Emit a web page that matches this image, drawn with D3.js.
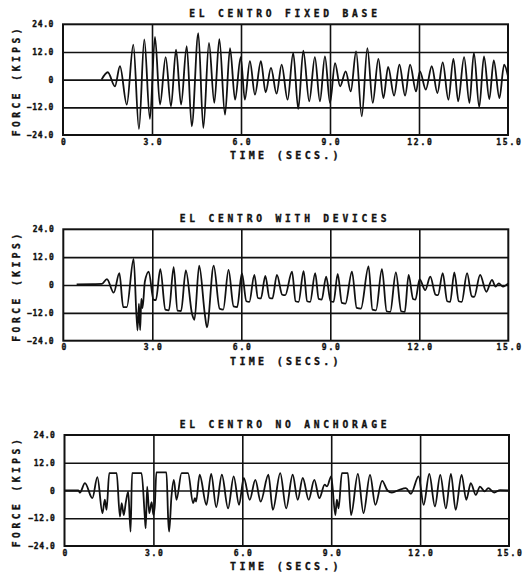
<!DOCTYPE html>
<html>
<head>
<meta charset="utf-8">
<script src="https://cdn.jsdelivr.net/npm/d3@7"></script>
<style>
  html, body { margin: 0; padding: 0; background: #fff; }
  svg { display: block; }
  text { font-family: "DejaVu Sans Mono", monospace; font-weight: bold; fill: #111; stroke: #111; stroke-width: 0.35px; }
</style>
</head>
<body>
<script>
// ---------------- data ----------------
const titles = ["EL CENTRO FIXED BASE", "EL CENTRO WITH DEVICES", "EL CENTRO NO ANCHORAGE"];
const xLabel = "TIME (SECS.)";
const yLabel = "FORCE (KIPS)";
const xTicks = [0, 3, 6, 9, 12, 15];
const yTicks = [-24, -12, 0, 12, 24];
const xGrid = [3, 6, 9, 12];
const yGrid = [-12, 0, 12];

// EL CENTRO FIXED BASE (time s, force kips) - extrema
const fixedT = [1.30,1.51,1.75,1.92,2.15,2.37,2.56,2.74,2.93,3.10,3.27,3.46,3.64,3.81,3.98,4.17,4.34,4.56,4.73,4.92,
  5.10,5.27,5.46,5.63,5.80,5.99,6.13,6.30,6.47,6.67,6.83,7.01,7.20,7.37,7.57,7.76,7.93,8.10,8.30,8.49,
  8.66,8.83,9.00,9.17,9.34,9.53,9.70,9.88,10.07,10.26,10.44,10.63,10.80,10.96,11.16,11.34,11.53,11.70,11.90,12.03,
  12.23,12.43,12.62,12.80,12.99,13.16,13.32,13.52,13.70,13.85,14.03,14.19,14.37,14.52,14.71,14.87,15.00];
const fixedV = [0,3.2,-2.9,5.8,-10.8,15.2,-21.4,17.4,-17.0,18.5,-10.8,9.8,-11.6,13.0,-10.8,14.5,-20.2,20.2,-21.0,15.9,
  -10.1,17.6,-15.2,13.7,-8.7,9.8,-8.7,8.0,-6.5,8.0,-5.5,5.1,-6.1,6.5,-8.7,11.6,-12.7,12.6,-9.4,9.8,
  -9.4,10.1,-10.1,7.2,-2.9,3.6,-5.1,12.3,-15.9,13.7,-10.1,9.0,-8.0,5.5,-6.9,6.5,-6.9,6.5,-5.1,3.6,
  -4.3,5.8,-5.8,7.5,-8.7,9.0,-9.4,9.8,-10.1,11.6,-11.9,10.1,-8.4,8.4,-8.0,6.5,1.4];

// EL CENTRO WITH DEVICES (broad troughs read as two points)
const devT = [0.45,1.00,1.30,1.47,1.70,1.89,2.02,2.14,2.37,2.50,2.55,2.59,2.63,2.67,2.75,2.88,3.04,3.12,3.27,3.44,
  3.56,3.72,3.85,3.97,4.13,4.34,4.42,4.58,4.77,4.84,5.07,5.27,5.39,5.57,5.74,5.86,6.02,6.17,6.27,6.44,
  6.56,6.66,6.81,6.95,7.05,7.20,7.38,7.48,7.71,7.83,7.93,8.10,8.22,8.32,8.49,8.61,8.71,8.86,9.01,9.11,
  9.25,9.39,9.51,9.73,9.89,10.03,10.29,10.42,10.54,10.74,10.90,11.02,11.21,11.39,11.51,11.64,11.79,11.87,12.01,12.20,
  12.37,12.55,12.63,12.79,12.94,13.04,13.18,13.33,13.43,13.61,13.77,13.85,14.05,14.26,14.45,14.57,14.68,14.82,15.00];
const devV = [0.3,0.4,0.5,2.5,-3.3,5.1,-9.5,-9.5,11.2,-19.6,-8.0,-19.4,-6.0,-10.0,1.5,5.8,-6.3,-6.5,6.8,-10.6,
  -10.9,7.7,-11.0,-11.2,6.3,-12.5,-15.0,8.3,-12.5,-18.2,8.3,-10.2,-10.6,6.5,-9.2,-9.5,5.1,-7.0,-7.3,4.4,
  -5.6,-5.8,3.9,-5.6,-5.8,4.4,-4.2,-4.4,5.8,-7.0,-7.3,6.0,-7.0,-7.3,5.1,-6.0,-6.3,3.6,-7.0,-7.3,
  4.8,-7.7,-8.0,5.8,-9.9,-10.2,8.0,-10.6,-10.9,6.8,-11.3,-11.6,5.4,-11.3,-11.6,4.4,-6.0,-6.3,2.5,-2.2,
  3.6,-4.2,-4.4,5.1,-7.0,-7.3,5.4,-7.0,-7.3,5.1,-4.9,-5.1,4.4,-2.9,2.2,-0.7,0.7,-0.7,0.7];

// EL CENTRO NO ANCHORAGE
const noT = [0.00,0.47,0.52,0.69,0.94,1.11,1.28,1.36,1.42,1.51,1.76,1.87,1.93,2.00,2.07,2.15,2.23,2.28,2.60,2.71,
  2.74,2.79,2.86,2.94,3.00,3.05,3.10,3.44,3.50,3.53,3.61,3.69,3.78,3.95,4.17,4.34,4.40,4.44,4.56,4.79,
  4.95,5.12,5.31,5.52,5.71,5.89,6.05,6.25,6.44,6.62,6.88,7.03,7.28,7.48,7.70,7.87,8.04,8.24,8.43,8.60,
  8.78,8.86,9.00,9.14,9.19,9.25,9.36,9.56,9.67,9.90,10.09,10.31,10.49,10.72,10.90,11.05,11.30,11.52,11.69,11.95,
  12.12,12.31,12.50,12.68,12.87,13.04,13.20,13.40,13.56,13.71,13.88,14.02,14.18,14.30,14.50,14.70,15.00];
const noV = [0,0,-0.9,3.2,-3.3,5.8,-9.8,-4.0,-8.4,7.5,7.5,-11.3,-5.5,-10.6,-5.0,-0.5,-17.8,7.5,7.5,-11.3,
  -16.3,1.7,-9.8,-5.0,-10.6,-6.0,7.8,7.8,-12.7,-17.8,-2.5,4.6,-4.0,7.5,7.5,-5.5,-3.3,-4.8,6.8,-6.2,
  7.2,-7.2,6.8,-7.7,6.1,-6.2,5.4,-4.0,4.6,-4.8,6.8,-8.4,7.5,-7.7,6.8,-4.0,5.4,-4.0,4.6,-3.3,
  2.5,1.8,6.1,-10.6,-4.0,-7.7,7.5,7.5,-10.6,7.2,-9.8,6.8,-6.2,4.2,0,-0.9,0.3,1.0,-1.4,6.1,
  -6.2,7.2,-6.9,6.8,-7.7,7.2,-8.4,6.8,-4.0,3.2,-1.9,1.7,-0.4,1.0,-0.9,0.2,0];

const seriesT = [fixedT, devT, noT];
const seriesV = [fixedV, devV, noV];

// ---------------- layout ----------------
const W = 527, H = 573;
const layout = [
  { x0: 63.0, x1: 508.0, yt: 24.3, yb: 135.0 },
  { x0: 63.3, x1: 508.3, yt: 229.3, yb: 340.7 },
  { x0: 64.5, x1: 509.0, yt: 435.0, yb: 546.0 }
];
const ink = "#111";

const svg = d3.select("body").append("svg").attr("width", W).attr("height", H);
svg.append("rect").attr("width", W).attr("height", H).attr("fill", "#fff");

const fmt = d => d === 0 ? "0" : d3.format(".1f")(d);

layout.forEach((L, i) => {
  const x = d3.scaleLinear().domain([0, 15]).range([L.x0, L.x1]);
  const y = d3.scaleLinear().domain([-24, 24]).range([L.yb, L.yt]);
  const g = svg.append("g");

  // vertical grid
  const gx = g.append("g").attr("transform", `translate(0,${L.yb})`)
    .call(d3.axisBottom(x).tickValues(xGrid).tickSize(-(L.yb - L.yt)).tickFormat(""));
  gx.select(".domain").remove();
  gx.selectAll("line").attr("stroke", ink).attr("stroke-width", 1.6);

  // horizontal grid
  const gy = g.append("g").attr("transform", `translate(${L.x0},0)`)
    .call(d3.axisLeft(y).tickValues(yGrid).tickSize(-(L.x1 - L.x0)).tickFormat(""));
  gy.select(".domain").remove();
  gy.selectAll("line").attr("stroke", ink).attr("stroke-width", 1.7);

  // frame
  g.append("rect").attr("x", L.x0).attr("y", L.yt)
    .attr("width", L.x1 - L.x0).attr("height", L.yb - L.yt)
    .attr("fill", "none").attr("stroke", ink).attr("stroke-width", 2);

  // x tick labels
  const ax = g.append("g").attr("transform", `translate(0,${L.yb})`)
    .call(d3.axisBottom(x).tickValues(xTicks).tickSize(0).tickPadding(4).tickFormat(fmt));
  ax.select(".domain").remove();
  ax.selectAll("text").attr("font-family", "DejaVu Sans Mono").attr("font-weight", "bold")
    .attr("font-size", 8).attr("fill", ink).style("letter-spacing", "1.8px").attr("dx", "0.9px");

  // y tick labels
  const ay = g.append("g").attr("transform", `translate(${L.x0},0)`)
    .call(d3.axisLeft(y).tickValues(yTicks).tickSize(0).tickPadding(9).tickFormat(fmt));
  ay.select(".domain").remove();
  ay.selectAll("text").attr("font-family", "DejaVu Sans Mono").attr("font-weight", "bold")
    .attr("font-size", 8).attr("fill", ink).style("letter-spacing", "0.6px");

  // title
  g.append("text").attr("x", 285).attr("y", L.yt - 7)
    .attr("text-anchor", "middle").attr("font-size", 9.6)
    .style("letter-spacing", "3.8px").text(titles[i]);

  // x label
  g.append("text").attr("x", 286).attr("y", L.yb + 24)
    .attr("text-anchor", "middle").attr("font-size", 10)
    .style("letter-spacing", "3.3px").text(xLabel);

  // y label
  g.append("text")
    .attr("transform", `translate(20,${(L.yt + L.yb) / 2 + 1}) rotate(-90)`)
    .attr("text-anchor", "middle").attr("font-size", 9.6)
    .style("letter-spacing", "3.5px").text(yLabel);

  // trace
  const pts = seriesT[i].map((t, k) => [t, seriesV[i][k]]);
  const line = d3.line().x(d => x(d[0])).y(d => y(d[1])).curve(d3.curveMonotoneX);
  g.append("path").datum(pts).attr("d", line)
    .attr("fill", "none").attr("stroke", ink).attr("stroke-width", 1.8)
    .attr("stroke-linejoin", "round");
});
</script>
</body>
</html>
